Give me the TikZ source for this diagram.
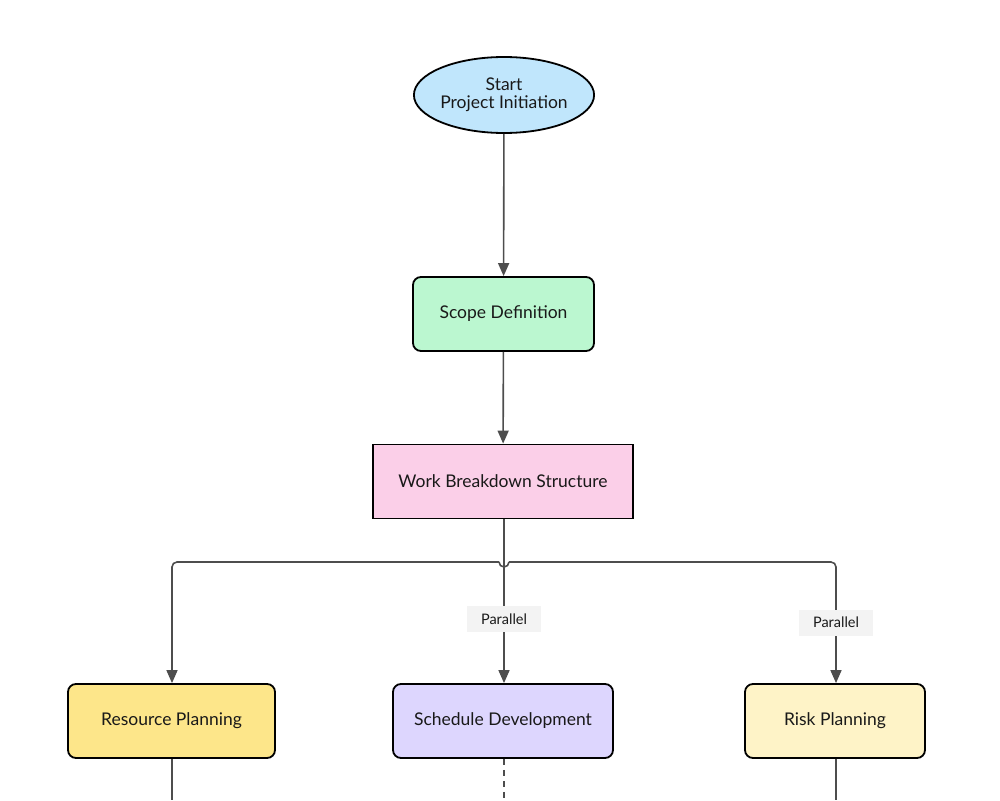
\documentclass[tikz,border=0pt]{standalone}
\usepackage{fontspec}
\setmainfont{Lato}
\usetikzlibrary{shapes.geometric,arrows.meta}

\definecolor{startblue}{RGB}{192,230,252}
\definecolor{scopegreen}{RGB}{187,247,208}
\definecolor{wbspink}{RGB}{251,207,232}
\definecolor{resyellow}{RGB}{253,230,138}
\definecolor{schedpurple}{RGB}{221,214,254}
\definecolor{riskyellow}{RGB}{254,243,199}
\definecolor{edgegray}{RGB}{77,77,77}
\definecolor{lblgray}{RGB}{243,243,243}

\begin{document}
\begin{tikzpicture}[
  x=1pt, y=-1pt,
  every node/.style={font=\fontsize{17.5}{18}\selectfont, text=black!90, align=center},
  box/.style={draw=black, line width=1.8pt, minimum height=74pt, inner sep=0pt},
  rbox/.style={box, rounded corners=8pt},
  edge/.style={draw=edgegray, line width=1.6pt},
  arr/.style={edge, -{Triangle[width=11pt,length=13pt]}},
  lbl/.style={fill=lblgray, sharp corners, font=\fontsize{14.5}{15}\selectfont, inner sep=0pt, minimum width=74pt, minimum height=26pt}
]
\useasboundingbox (0,0) rectangle (1000,800);

% nodes
\node[ellipse, draw=black, line width=1.8pt, fill=startblue, minimum width=178pt, minimum height=76pt, inner sep=0pt]
  (start) at (504,95) {Start\\Project Initiation};
\node[rbox, fill=scopegreen, minimum width=181pt] (scope) at (503.5,314) {Scope Definition};
\node[box, fill=wbspink, minimum width=260pt] (wbs) at (503,481.5) {Work Breakdown Structure};
\node[rbox, fill=resyellow, minimum width=207pt] (res) at (171.5,721) {Resource Planning};
\node[rbox, fill=schedpurple, minimum width=220pt] (sched) at (503,721) {Schedule Development};
\node[rbox, fill=riskyellow, minimum width=180pt] (risk) at (835,721) {Risk Planning};

\coordinate (jn) at (504,562);
\coordinate (resout) at (172,800);
\coordinate (schedout) at (504,800);
\coordinate (riskout) at (836,800);

% connectors
\draw[arr] (start) -- (scope);
\draw[arr] (scope) -- (wbs);
\draw[arr] (wbs.south -| jn) -- node[lbl, pos=0.61] {Parallel} (sched.north -| jn);
\draw[edge] ([xshift=-5pt]jn) arc[start angle=180, end angle=360, radius=5pt];
\draw[arr, rounded corners=5pt] ([xshift=-5pt]jn) -| (res.north -| resout);
\draw[arr, rounded corners=5pt] ([xshift=5pt]jn) -| node[lbl, pos=0.75] {Parallel} (risk.north -| riskout);

% leaving the page
\draw[edge] (res.south -| resout) -- (resout);
\draw[edge, dash pattern=on 6pt off 5pt] (sched.south -| schedout) -- (schedout);
\draw[edge] (risk.south -| riskout) -- (riskout);
\end{tikzpicture}
\end{document}
